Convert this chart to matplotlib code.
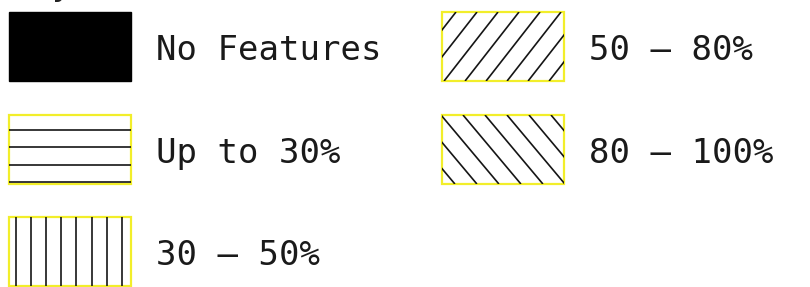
import numpy as np
import matplotlib.pyplot as plt
from matplotlib.patches import Rectangle

# legend entries, in reading order (column by column)
labels = ["No Features", "Up to 30%", "30 \u2013 50%", "50 \u2013 80%", "80 \u2013 100%"]
patterns = ["solid", "horizontal", "vertical", "north_east", "north_west"]
columns = [0, 0, 0, 1, 1]
rows = [0, 1, 2, 0, 1]

# hatch styles: spacing / offset in pixels, angle in degrees
hatch_style = {
    "horizontal": dict(spacing=17.3, offset=15, angle=0),
    "vertical": dict(spacing=15.1, offset=7, angle=90),
    "north_east": dict(spacing=21.0, offset=6, angle=52),
    "north_west": dict(spacing=22.0, offset=1, angle=-50),
}

fig = plt.figure(figsize=(8.1, 2.87), dpi=100)
ax = fig.add_axes([0, 0, 1, 1])
ax.set_xlim(0, 810)
ax.set_ylim(287, 0)
ax.axis("off")

col_x = [9, 442]
row_y = [12, 115, 217]
box_w = 122
box_h = 69
line_col = "#151515"
edge_col = "#f2ee2a"


def draw_hatch(x0, y0, style):
    clip = Rectangle((x0, y0), box_w, box_h, transform=ax.transData)
    sp, off, ang = style["spacing"], style["offset"], style["angle"]
    segs = []
    if ang == 0:
        for y in np.arange(y0 + off, y0 + box_h + 1, sp):
            segs.append(([x0, x0 + box_w], [y, y]))
    elif ang == 90:
        for x in np.arange(x0 + off, x0 + box_w + 1, sp):
            segs.append(([x, x], [y0, y0 + box_h]))
    else:
        # lines pass through the top edge at xt and run down across the box
        run = box_h / np.tan(np.radians(abs(ang)))
        sign = -1 if ang > 0 else 1
        for xt in np.arange(x0 + off - 2 * box_w, x0 + 2 * box_w, sp):
            segs.append(([xt, xt + sign * run], [y0, y0 + box_h]))
    for xs, ys in segs:
        ln, = ax.plot(xs, ys, color=line_col, lw=1.2, solid_capstyle="butt")
        ln.set_clip_path(clip)


# title of the key, mostly cut off by the top edge
ax.text(12, -5, "Key", fontsize=24.5, family="DejaVu Sans Mono", va="baseline", color="#222222")

for label, pat, c, r in zip(labels, patterns, columns, rows):
    x0 = col_x[c]
    y0 = row_y[r]
    if pat == "solid":
        ax.add_patch(Rectangle((x0, y0), box_w, box_h, facecolor="black", edgecolor="black"))
    else:
        draw_hatch(x0, y0, hatch_style[pat])
        ax.add_patch(Rectangle((x0, y0), box_w, box_h, fill=False,
                               edgecolor=edge_col, linewidth=1.6))
    ax.text(x0 + box_w + 25, y0 + box_h / 2 + 4, label, fontsize=24.5,
            family="DejaVu Sans Mono", va="center", ha="left", color="#1a1a1a")

fig.savefig("out.png", dpi=100)
